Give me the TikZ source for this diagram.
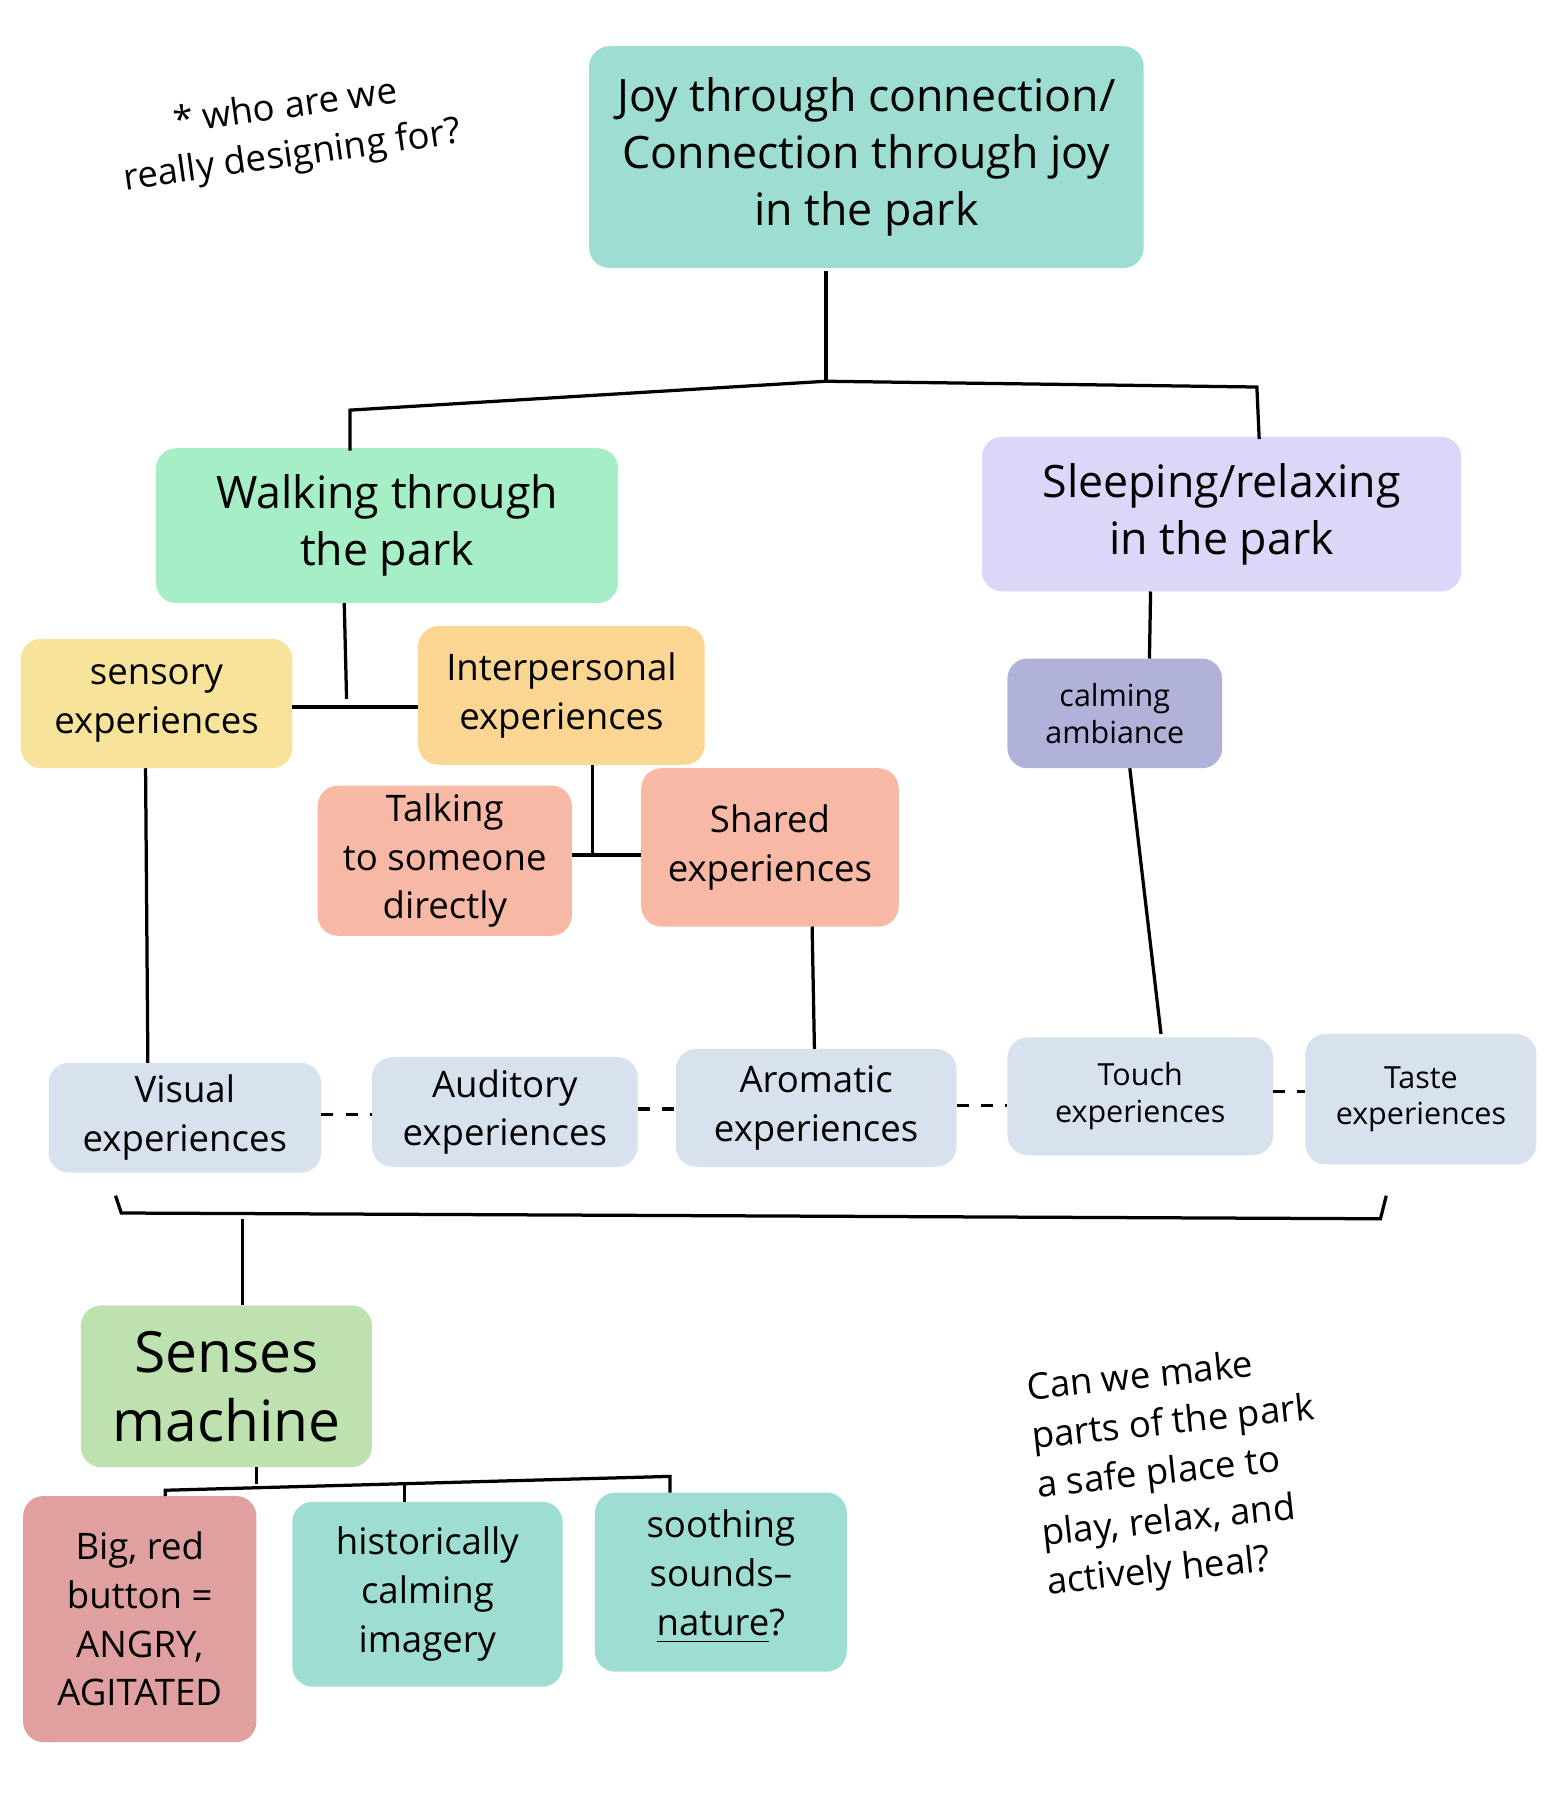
\documentclass[tikz,border=0pt]{standalone}
\usepackage{fontspec}
\setmainfont{Open Sans}
\definecolor{teal}{HTML}{9EDDD1}
\definecolor{mint}{HTML}{A6EEC6}
\definecolor{lav}{HTML}{DCD6F8}
\definecolor{yel}{HTML}{F8E39A}
\definecolor{ora}{HTML}{FBD592}
\definecolor{sal}{HTML}{F7B9A5}
\definecolor{peri}{HTML}{B0B2DA}
\definecolor{sen}{HTML}{D8E2EE}
\definecolor{grn}{HTML}{BDE2B0}
\definecolor{rd}{HTML}{E0A0A0}
\begin{document}
\begin{tikzpicture}[x=0.01cm,y=-0.01cm,
 lbl/.style={align=center,font=\fontsize{9}{12}\selectfont},
 big/.style={align=center,font=\fontsize{11}{14}\selectfont},
 sm/.style={align=center,font=\fontsize{7.5}{9}\selectfont},
 ln/.style={line width=0.8pt},
 dl/.style={line width=0.8pt,dashed}]
\useasboundingbox (0,0) rectangle (1350,1559);
\newcommand{\bx}[7]{\fill[#6,rounded corners=5pt] (#1,#2) rectangle (#3,#4);
 \node[#7] at ({(#1+#3)/2},{(#2+#4)/2}) {#5};}
\bx{510}{40}{990}{232}{Joy through connection/\\Connection through joy\\in the park}{teal}{big}
\node[lbl,rotate=8] (q) at (250,115) {* who are we\\really designing for?};
\bx{135}{388}{535}{522}{Walking through\\the park}{mint}{big}
\bx{850}{378}{1265}{512}{Sleeping/relaxing\\in the park}{lav}{big}
\bx{18}{553}{253}{665}{sensory\\experiences}{yel}{lbl}
\bx{362}{542}{610}{662}{Interpersonal\\experiences}{ora}{lbl}
\bx{275}{680}{495}{810}{Talking\\to someone\\directly}{sal}{lbl}
\bx{555}{665}{778}{802}{Shared\\experiences}{sal}{lbl}
\bx{872}{570}{1058}{665}{calming\\ambiance}{peri}{sm}
\bx{42}{920}{278}{1015}{Visual\\experiences}{sen}{lbl}
\bx{322}{915}{552}{1010}{Auditory\\experiences}{sen}{lbl}
\bx{585}{908}{828}{1010}{Aromatic\\experiences}{sen}{lbl}
\bx{872}{898}{1102}{1000}{Touch\\experiences}{sen}{sm}
\bx{1130}{895}{1330}{1008}{Taste\\experiences}{sen}{sm}
\fill[grn,rounded corners=5pt] (70,1130) rectangle (322,1270);
\node[align=center,font=\fontsize{14}{17}\selectfont] at (196,1200) {Senses\\machine};
\bx{20}{1295}{222}{1508}{Big, red\\button =\\ANGRY,\\AGITATED}{rd}{lbl}
\bx{253}{1300}{487}{1460}{historically\\calming\\imagery}{teal}{lbl}
\fill[teal,rounded corners=5pt] (515,1292) rectangle (733,1447);
\node[lbl] (ss) at (624,1365) {soothing\\sounds–\\\underline{nature}?};
\node[lbl,rotate=6,align=left] at (1020,1275) {Can we make\\parts of the park\\a safe place to\\play, relax, and\\actively heal?};
% tree
\draw[ln] (715,235)--(715,330);
\draw[ln] (303,390)--(303,355)--(715,330)--(1088,335)--(1090,380);
\draw[ln] (298,522)--(300,605);
\draw[ln] (253,612)--(362,612);
\draw[ln] (513,662)--(513,738);
\draw[ln] (495,740)--(555,740);
\draw[ln] (996,512)--(995,570);
\draw[ln] (978,665)--(1005,895);
\draw[ln] (126,665)--(128,920);
\draw[ln] (703,802)--(705,908);
\draw[dl] (278,965)--(322,965);
\draw[dl] (552,960)--(585,960);
\draw[dl] (828,957)--(872,957);
\draw[dl] (1102,945)--(1130,945);
\draw[ln] (100,1035)--(105,1050)--(1195,1055)--(1200,1035);
\draw[ln] (210,1055)--(210,1130);
\draw[ln] (222,1270)--(222,1285);
\draw[ln] (143,1295)--(143,1290)--(580,1278)--(580,1292);
\draw[ln] (350,1284)--(350,1300);
\end{tikzpicture}
\end{document}
